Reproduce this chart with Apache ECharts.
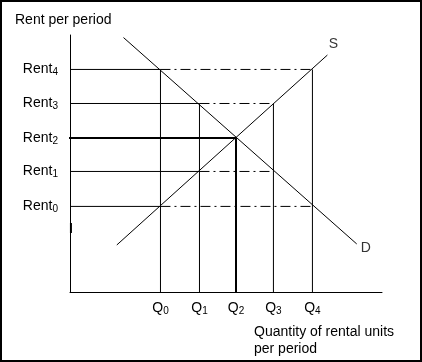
<!DOCTYPE html>
<html>
<head>
<meta charset="utf-8">
<script src="https://cdn.jsdelivr.net/npm/echarts@6/dist/echarts.min.js"></script>
<style>
html,body{margin:0;padding:0;background:#fff;}
#c{width:422px;height:362px;}
</style>
</head>
<body>
<div id="c"></div>
<script>
// Quantity levels (x) and rent levels (y), in chart units
const qNames = ['0', '1', '2', '3', '4'];
const qValues = [29.0, 41.5, 53.2, 65.2, 77.7];
const rentNames = ['0', '1', '2', '3', '4'];
const rentValues = [33.3, 46.9, 59.9, 73.35, 86.6];
// Demand and supply curves: start and end points
const demandLine = [[17.15, 99.0], [91.9, 18.7]];
const supplyLine = [[15.0, 18.3], [82.5, 92.2]];
// Guide segments: [rent index, solid end q index, dash-dot end q index or -1]
const rentGuides = [[4, 0, 4], [3, 1, 3], [2, 2, -1], [1, 1, 3], [0, 0, 4]];
// Vertical guides: [q index, top rent index]
const qGuides = [[0, 4], [1, 3], [2, 2], [3, 3], [4, 4]];
const thickIndex = 2;
const axisMark = [[0.3, 26.85], [0.3, 22.96]];

const FONT = "'Liberation Sans', Arial, sans-serif";
const dashDot = [10, 4, 2, 4];

const series = [];
function seg(data, width, type) {
  series.push({
    type: 'line', data: data, showSymbol: false, symbol: 'none', clip: false,
    silent: true, animation: false,
    lineStyle: { color: '#000', width: width, type: type || 'solid' }
  });
}
rentGuides.forEach(function (g) {
  const y = rentValues[g[0]];
  const thick = g[0] === thickIndex;
  seg([[thick ? -0.6 : 0, y], [qValues[g[1]], y]], thick ? 2 : 1);
  if (g[2] >= 0) seg([[qValues[g[1]], y], [qValues[g[2]], y]], 1, dashDot);
});
qGuides.forEach(function (g) {
  const x = qValues[g[0]];
  seg([[x, rentValues[g[1]]], [x, 0]], g[0] === thickIndex ? 2 : 1);
});
seg(demandLine, 1);
seg(supplyLine, 1);
seg(axisMark, 2);

// S and D curve labels
series.push({
  type: 'scatter', symbolSize: 1, itemStyle: { color: 'rgba(0,0,0,0)' }, silent: true, animation: false,
  clip: false,
  data: [
    { value: supplyLine[1], label: { formatter: 'S', offset: [6, -11] } },
    { value: demandLine[1], label: { formatter: 'D', offset: [9, 4] } }
  ],
  label: { show: true, position: 'inside', color: '#000', fontSize: 14, fontFamily: FONT }
});

const rich = {
  a: { fontSize: 14, fontFamily: FONT, color: '#000', lineHeight: 16 },
  b: { fontSize: 10, fontFamily: FONT, color: '#000', lineHeight: 11, verticalAlign: 'bottom' }
};

const chart = echarts.init(document.getElementById('c'));
chart.setOption({
  animation: false,
  backgroundColor: '#fff',
  grid: { left: 70, right: 40, top: 35, bottom: 70, containLabel: false },
  xAxis: {
    type: 'value', min: 0, max: 100,
    splitLine: { show: false }, axisTick: { show: false },
    axisLine: { show: true, lineStyle: { color: '#000', width: 1 } },
    axisLabel: {
      show: true, customValues: qValues, margin: 8,
      formatter: function (v) {
        const i = qValues.indexOf(v);
        return i < 0 ? '' : '{a|Q}{b|' + qNames[i] + '}';
      },
      rich: rich
    }
  },
  yAxis: {
    type: 'value', min: 0, max: 100,
    splitLine: { show: false }, axisTick: { show: false },
    axisLine: { show: true, lineStyle: { color: '#000', width: 1 } },
    axisLabel: {
      show: true, customValues: rentValues, margin: 12,
      formatter: function (v) {
        const i = rentValues.indexOf(v);
        return i < 0 ? '' : '{a|Rent}{b|' + rentNames[i] + '}';
      },
      rich: rich
    }
  },
  graphic: [
    { type: 'rect', shape: { x: 1, y: 1, width: 420, height: 360 },
      style: { fill: 'none', stroke: '#000', lineWidth: 2 }, silent: true, z: 100 },
    { type: 'text', x: 15, y: 20,
      style: { text: 'Rent per period', fontSize: 14, fontFamily: FONT, fill: '#000', textVerticalAlign: 'middle' } },
    { type: 'text', x: 254, y: 341,
      style: { text: 'Quantity of rental units\nper period', fontSize: 14, lineHeight: 17, fontFamily: FONT, fill: '#000', textVerticalAlign: 'middle' } }
  ],
  series: series
});
</script>
</body>
</html>
